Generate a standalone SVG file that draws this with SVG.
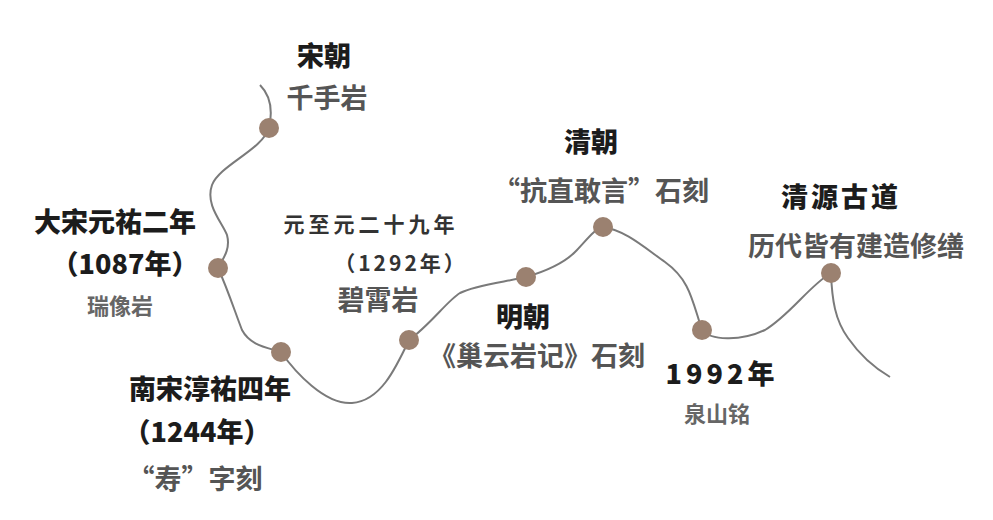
<svg xmlns="http://www.w3.org/2000/svg" width="993" height="520" viewBox="0 0 993 520">
<style>
text{font-family:"Noto Sans CJK SC","Noto Sans",sans-serif;font-weight:700;text-anchor:middle}
.t{fill:#1c1c1c;font-size:27px;font-weight:900}
.s{fill:#555;font-size:27px}
.m{fill:#333;font-size:21px;letter-spacing:4px}
.g{fill:#666;font-size:22px}
.dot{fill:#9b8170}
.line{fill:none;stroke:#7a7a7a;stroke-width:2}
</style>
<rect width="993" height="520" fill="#fff"/>
<g id="connectors">
<path class="line" d="M260,85 C270,95 273,110 269,128 C262,150 220,165 212,185 C205,205 222,222 227,235 C231,250 222,260 218,268 C228,290 235,312 242,330 C250,345 265,347 281,352 C295,372 325,405 352,403 C380,401 395,370 409,340 C430,325 448,300 460,293 C475,285 505,282 526,277 C550,270 565,262 575,252 C585,242 595,228 603,227 C625,230 645,248 665,262 C690,280 692,300 702,330 C710,340 740,342 765,330 C790,315 810,285 831,273 C832,300 835,320 848,338 C862,358 878,370 890,377"/>
</g>
<g id="node-song">
<circle class="dot" cx="269" cy="128" r="10"/>
<text class="t" x="324" y="66">宋朝</text>
<text class="s" x="327" y="108">千手岩</text>
</g>
<g id="node-1087">
<circle class="dot" cx="218" cy="268" r="10"/>
<text class="t" x="115" y="232">大宋元祐二年</text>
<text class="t" x="125" y="274" font-size="25">（1087年）</text>
<text class="g" x="120" y="314">瑞像岩</text>
</g>
<g id="node-1244">
<circle class="dot" cx="281" cy="352" r="10"/>
<text class="t" x="210" y="399">南宋淳祐四年</text>
<text class="t" x="197" y="442" font-size="25">（1244年）</text>
<text class="s" x="195" y="489">“寿”字刻</text>
</g>
<g id="node-1292">
<circle class="dot" cx="409" cy="340" r="10"/>
<text class="m" x="371" y="232">元至元二十九年</text>
<text class="m" x="401" y="271" style="letter-spacing:3px">（1292年）</text>
<text class="s" x="378" y="310">碧霄岩</text>
</g>
<g id="node-ming">
<circle class="dot" cx="526" cy="277" r="10"/>
<text class="t" x="523" y="327">明朝</text>
<text class="s" x="537" y="366">《巢云岩记》石刻</text>
</g>
<g id="node-qing">
<circle class="dot" cx="603" cy="227" r="10"/>
<text class="t" x="591" y="152">清朝</text>
<text class="s" x="601" y="201">“抗直敢言”石刻</text>
</g>
<g id="node-1992">
<circle class="dot" cx="702" cy="330" r="10"/>
<text class="t" x="722" y="384" style="letter-spacing:4px">1992年</text>
<text class="g" x="717" y="422">泉山铭</text>
</g>
<g id="node-qingyuan">
<circle class="dot" cx="831" cy="273" r="10"/>
<text class="t" x="841" y="207" style="letter-spacing:3px">清源古道</text>
<text class="s" x="856" y="256">历代皆有建造修缮</text>
</g>
</svg>
